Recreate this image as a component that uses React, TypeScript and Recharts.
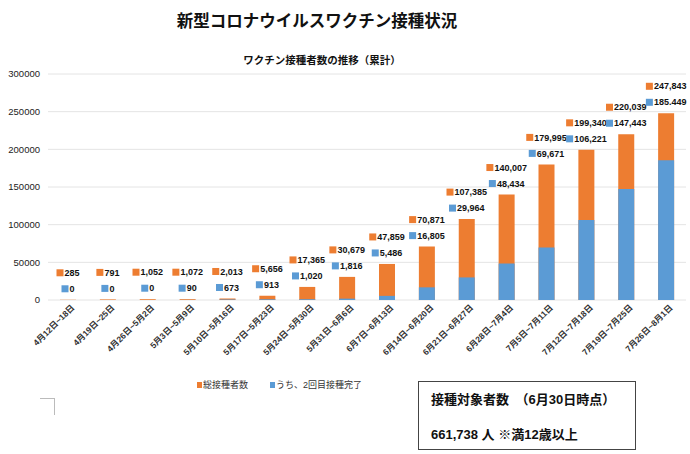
import { Bar, BarChart, CartesianGrid, XAxis, YAxis } from "recharts";

const periods = [
	"4月12日~18日",
	"4月19日~25日",
	"4月26日~5月2日",
	"5月3日~5月9日",
	"5月10日~5月16日",
	"5月17日~5月23日",
	"5月24日~5月30日",
	"5月31日~6月6日",
	"6月7日~6月13日",
	"6月14日~6月20日",
	"6月21日~6月27日",
	"6月28日~7月4日",
	"7月5日~7月11日",
	"7月12日~7月18日",
	"7月19日~7月25日",
	"7月26日~8月1日",
];
const totalDoses = [285, 791, 1052, 1072, 2013, 5656, 17365, 30679, 47859, 70871, 107385, 140007, 179995, 199340, 220039, 247843];
const secondDoses = [0, 0, 0, 90, 673, 913, 1020, 1816, 5486, 16805, 29964, 48434, 69671, 106221, 147443, 185449];
// the source sheet prints this one with a period
const secondLabelOverrides: Record<number, string> = { 15: "185.449" };
const yTicks = [0, 50000, 100000, 150000, 200000, 250000, 300000];

const ORANGE = "#ED7D31";
const BLUE = "#5B9BD5";
const FONT = "'Liberation Sans', 'Noto Sans CJK JP', sans-serif";

const data = periods.map((period, i) => ({
	period,
	total: totalDoses[i],
	second: secondDoses[i],
}));

const fmt = (v: number) => v.toLocaleString("en-US");

const textWidth = (s: string) => {
	let w = 0;
	for (const ch of s) w += ch === "," || ch === "." ? 2.5 : 5;
	return w;
};

const Tag = ({ cx, cy, color, text }: { cx: number; cy: number; color: string; text: string }) => {
	const w = 8 + textWidth(text);
	const left = cx - w / 2;
	return (
		<g>
			<rect x={left} y={cy - 3.5} width={7} height={7} fill={color} />
			<text x={left + 8} y={cy} dy="0.35em" fontSize={9} fontWeight="bold" fill="#111" fontFamily={FONT}>
				{text}
			</text>
		</g>
	);
};

const BarLabels = (props: any) => {
	const { x, y, width, index } = props;
	const cx = x + width / 2;
	const second = secondLabelOverrides[index] ?? fmt(secondDoses[index]);
	return (
		<g>
			<Tag cx={cx} cy={y - 27} color={ORANGE} text={fmt(totalDoses[index])} />
			<Tag cx={cx} cy={y - 11} color={BLUE} text={second} />
		</g>
	);
};

const PeriodTick = ({ x, y, payload }: any) => (
	<g transform={`translate(${x + 5},${y - 2})`}>
		<text transform="rotate(-45)" textAnchor="end" fontSize={8.5} fontWeight="bold" fill="#333" fontFamily={FONT} dy="0.35em">
			{payload.value}
		</text>
	</g>
);

const App = () => {
	return (
		<div style={{ position: "absolute", left: 0, top: 0, width: 690, height: 454, background: "#fff", fontFamily: FONT }}>
			<div style={{ position: "absolute", left: 0, width: 634, top: 8, textAlign: "center", fontSize: 16.5, fontWeight: "bold", color: "#111" }}>
				新型コロナウイルスワクチン接種状況
			</div>
			<div style={{ position: "absolute", left: 0, width: 644, top: 52, textAlign: "center", fontSize: 10.5, fontWeight: "bold", color: "#111" }}>
				ワクチン接種者数の推移（累計）
			</div>
			<BarChart
				width={690}
				height={454}
				data={data}
				margin={{ top: 74, right: 4, bottom: 84, left: 0 }}
				style={{ position: "absolute", left: 0, top: 0 }}
			>
				<CartesianGrid vertical={false} stroke="#E4E4E4" />
				<XAxis
					xAxisId="total"
					dataKey="period"
					interval={0}
					height={70}
					axisLine={false}
					tickLine={false}
					tick={<PeriodTick />}
				/>
				<XAxis xAxisId="second" dataKey="period" hide height={0} />
				<YAxis
					width={48}
					domain={[0, 300000]}
					ticks={yTicks}
					axisLine={false}
					tickLine={false}
					tick={{ fontSize: 9.5, fill: "#222", fontFamily: FONT }}
				/>
				<Bar
					xAxisId="total"
					dataKey="total"
					fill={ORANGE}
					barSize={16}
					isAnimationActive={false}
					label={<BarLabels />}
				/>
				<Bar xAxisId="second" dataKey="second" fill={BLUE} barSize={16} isAnimationActive={false} />
			</BarChart>
			<div style={{ position: "absolute", left: 197, top: 378, fontSize: 9, color: "#333", display: "flex", gap: 22 }}>
				<span>
					<span style={{ display: "inline-block", width: 5, height: 6, background: ORANGE, marginRight: 1 }} />
					総接種者数
				</span>
				<span>
					<span style={{ display: "inline-block", width: 5, height: 6, background: BLUE, marginRight: 1 }} />
					うち、2回目接種完了
				</span>
			</div>
			<div style={{ position: "absolute", left: 40, top: 398, width: 14, height: 16, borderTop: "1px solid #bbb", borderRight: "1px solid #bbb" }} />
			<div
				style={{
					position: "absolute",
					left: 418,
					top: 381,
					width: 216,
					height: 67,
					border: "1px solid #444",
					fontWeight: "bold",
					fontSize: 13,
					color: "#111",
				}}
			>
				<div style={{ position: "absolute", left: 12, top: 7 }}>接種対象者数　（6月30日時点）</div>
				<div style={{ position: "absolute", left: 12, top: 42 }}>661,738 人 ※満12歳以上</div>
			</div>
		</div>
	);
};

export default App;
